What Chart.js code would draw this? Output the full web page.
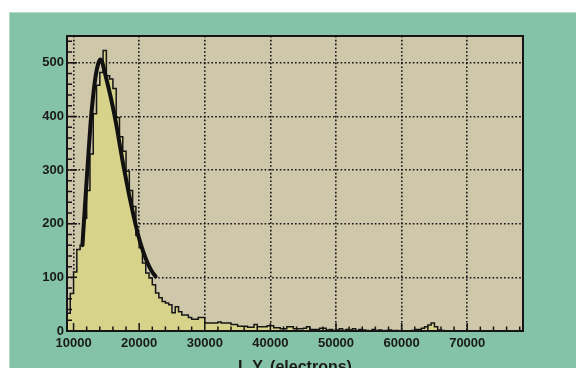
<!DOCTYPE html>
<html>
<head>
<meta charset="utf-8">
<script src="https://cdn.jsdelivr.net/npm/chart.js@4.4.0/dist/chart.umd.min.js"></script>
<style>
  html, body { margin: 0; padding: 0; background: #fff; }
</style>
</head>
<body>
<canvas id="chart" width="576" height="368"></canvas>
<script>
// histogram: 500-electron bins starting at 9000
const binStart = 9000;
const binWidth = 500;
const counts = [
  33, 70, 110, 152, 160, 210, 262, 330, 405, 458,
  482, 523, 476, 470, 452, 398, 362, 335, 298, 262,
  232, 178, 155, 127, 108, 99, 86, 71, 62, 55,
  52, 49, 34, 45, 36, 30, 30, 25, 22, 22,
  25, 25, 15, 15, 15, 15, 17, 15, 15, 15,
  12, 12, 9, 9, 9, 7, 7, 12, 8, 8,
  8, 10, 10, 6, 6, 4, 4, 8, 8, 4,
  4, 4, 5, 8, 3, 3, 3, 5, 5, 2,
  3, 1, 2, 4, 1, 3, 2, 4, 1, 3,
  2, 1, 0, 3, 1, 2, 0, 1, 2, 0,
  1, 0, 0, 0, 0, 1, 3, 3, 5, 8,
  11, 15, 8, 2, 1, 0, 0, 0, 0, 0,
  0, 0, 0, 0, 0, 0, 0, 0, 0, 0,
  0, 0, 0, 0, 0, 0, 0, 0, 0, 0
];

// fitted curve
const fitX = [11350, 11800, 12200, 12600, 13000, 13400, 13750, 14070, 14400, 14700,
  15200, 15700, 16200, 16700, 17000, 17500, 18000, 18500, 19000, 19500,
  20000, 20500, 21000, 21500, 22000, 22500];
const fitY = [160, 245, 318, 388, 440, 478, 498, 506, 500, 485,
  460, 434, 405, 372, 350, 315, 283, 252, 223, 196,
  172, 152, 135, 121, 110, 102];

const xTicks = [10000, 20000, 30000, 40000, 50000, 60000, 70000];
const yTicks = [0, 100, 200, 300, 400, 500];

const histPoints = counts.map((c, i) => ({ x: binStart + i * binWidth, y: c }));
histPoints.push({ x: binStart + counts.length * binWidth, y: 0 });
const fitPoints = fitX.map((x, i) => ({ x: x, y: fitY[i] }));

const FONT = "'Liberation Sans', Arial, sans-serif";

const frame = {
  id: "frame",
  beforeDraw(chart) {
    const { ctx, chartArea: a, width, height } = chart;
    ctx.save();
    ctx.fillStyle = "#ffffff";
    ctx.fillRect(0, 0, width, height);
    ctx.fillStyle = "#84c3a7";
    ctx.fillRect(9, 12, width - 9, height - 12);
    ctx.strokeStyle = "#b2dcc7";
    ctx.lineWidth = 1;
    ctx.strokeRect(9.5, 12.5, width, height);
    ctx.fillStyle = "#cec7a9";
    ctx.fillRect(a.left, a.top, a.right - a.left, a.bottom - a.top);
    ctx.restore();
  },
  afterDatasetsDraw(chart) {
    const { ctx, chartArea: a, scales } = chart;
    const x = scales.x, y = scales.y;
    ctx.save();
    ctx.strokeStyle = "#151515";
    ctx.lineWidth = 1.5;
    ctx.beginPath();
    for (let v = 10000; v <= 78000; v += 2000) {
      const px = x.getPixelForValue(v);
      const len = v % 10000 === 0 ? 8 : 4.5;
      ctx.moveTo(px, a.bottom);
      ctx.lineTo(px, a.bottom - len);
    }
    for (let v = 0; v <= 540; v += 20) {
      const py = y.getPixelForValue(v);
      const len = v % 100 === 0 ? 10 : 5;
      ctx.moveTo(a.left, py);
      ctx.lineTo(a.left + len, py);
    }
    ctx.stroke();
    ctx.lineWidth = 2;
    ctx.strokeRect(a.left, a.top, a.right - a.left, a.bottom - a.top);
    ctx.restore();
  }
};

const ctx = document.getElementById("chart").getContext("2d");

new Chart(ctx, {
  type: "line",
  data: {
    datasets: [
      {
        label: "fit",
        data: fitPoints,
        borderColor: "#111111",
        borderWidth: 4,
        borderCapStyle: "round",
        pointRadius: 0,
        cubicInterpolationMode: "monotone",
        fill: false,
        order: 0
      },
      {
        label: "L.Y.",
        data: histPoints,
        stepped: true,
        borderColor: "#161616",
        borderWidth: 1.5,
        backgroundColor: "#d8d38b",
        fill: "origin",
        pointRadius: 0,
        order: 1
      }
    ]
  },
  options: {
    responsive: false,
    animation: false,
    devicePixelRatio: 1,
    layout: { padding: { top: 36, right: 53, left: 0, bottom: 0 } },
    plugins: {
      legend: { display: false },
      tooltip: { enabled: false }
    },
    scales: {
      x: {
        type: "linear",
        min: 9000,
        max: 78500,
        afterBuildTicks: (s) => { s.ticks = xTicks.map((v) => ({ value: v })); },
        afterFit: (s) => { s.height = 37; },
        grid: { color: "#141414", lineWidth: 1.6, drawTicks: false },
        border: { display: false, dash: [1.6, 2.2] },
        ticks: {
          color: "#1a1a1a",
          padding: 4.5,
          maxRotation: 0,
          autoSkip: false,
          font: { family: FONT, size: 13, weight: "bold" },
          callback: (v) => String(v)
        },
        title: {
          display: true,
          text: "L.Y. (electrons)",
          color: "#1a1a1a",
          font: { family: FONT, size: 16, weight: "bold" },
          padding: { top: 0, bottom: -9 }
        }
      },
      y: {
        min: 0,
        max: 550,
        afterBuildTicks: (s) => { s.ticks = yTicks.map((v) => ({ value: v })); },
        afterFit: (s) => { s.width = 67; },
        grid: { color: "#141414", lineWidth: 1.6, drawTicks: false },
        border: { display: false, dash: [1.6, 2.2] },
        ticks: {
          color: "#1a1a1a",
          padding: 3,
          font: { family: FONT, size: 13, weight: "bold" },
          callback: (v) => String(v)
        }
      }
    }
  },
  plugins: [frame]
});
</script>
</body>
</html>
